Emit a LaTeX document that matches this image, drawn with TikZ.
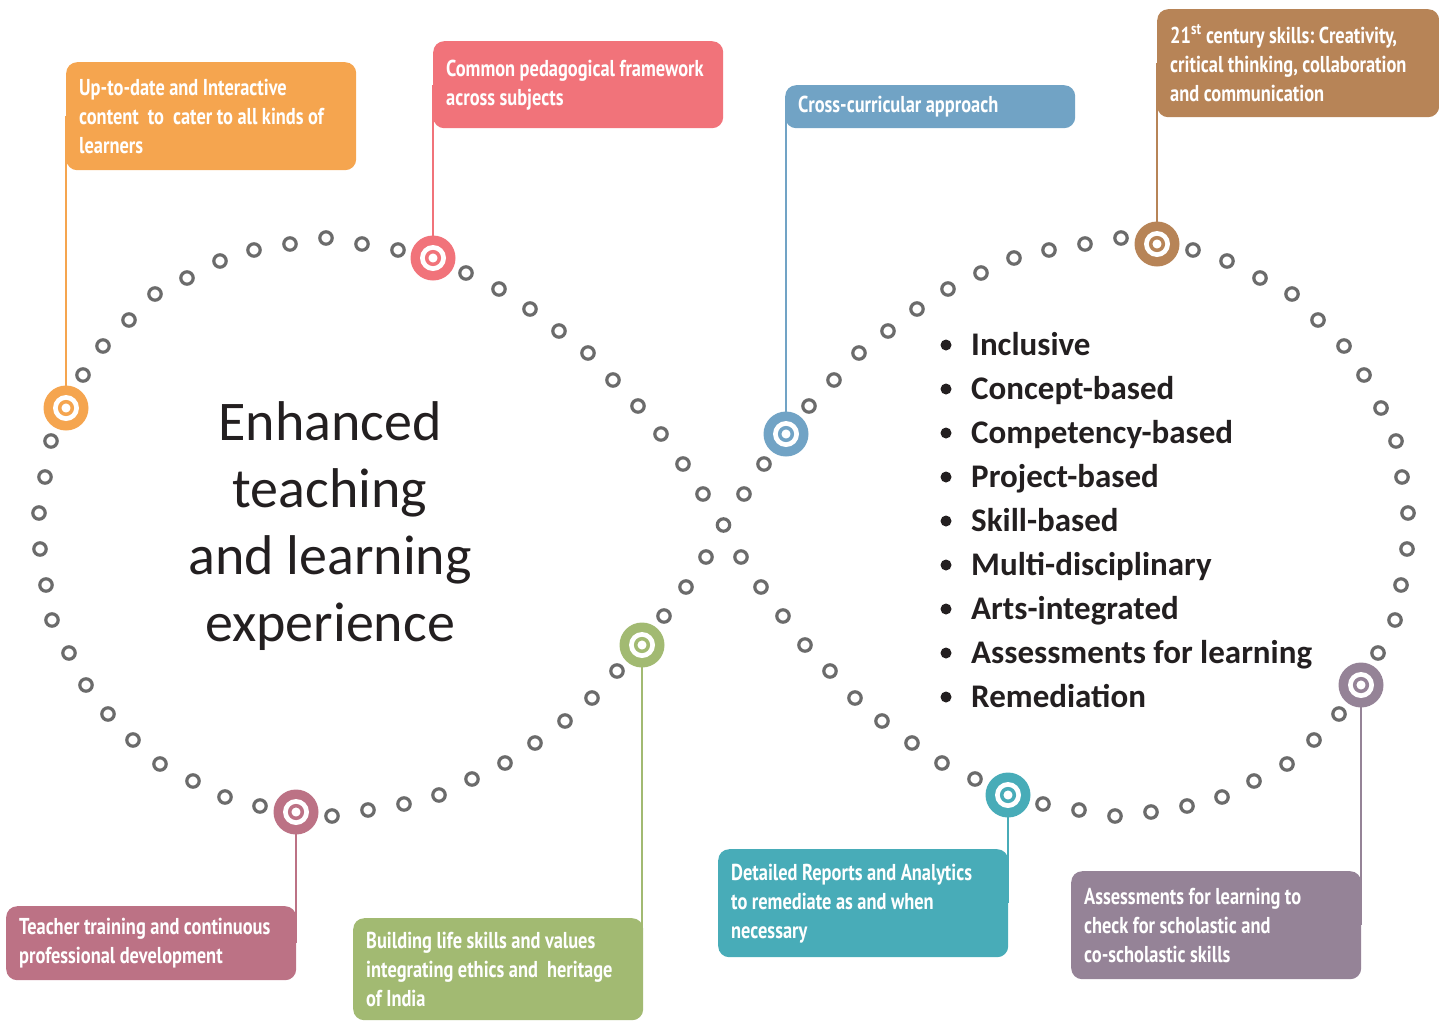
\documentclass[tikz,border=0pt]{standalone}
\usepackage{fontspec}
\setmainfont{Carlito}
\newfontfamily\boxfont[FakeStretch=0.8]{PT Sans}
\usetikzlibrary{backgrounds}

\definecolor{cOrange}{HTML}{F5A54F}
\definecolor{cPink}{HTML}{F1737A}
\definecolor{cBlue}{HTML}{71A3C5}
\definecolor{cBrown}{HTML}{B78457}
\definecolor{cMauve}{HTML}{BC7285}
\definecolor{cGreen}{HTML}{A2BA72}
\definecolor{cTeal}{HTML}{48ACB8}
\definecolor{cPurple}{HTML}{958397}
\definecolor{cDot}{HTML}{6B6B6B}
\definecolor{cText}{HTML}{231F20}

\tikzset{
  box/.style={fill=#1, rounded corners=11pt, anchor=north west, text=white,
    inner xsep=13pt, inner ysep=0pt, text width=264pt, align=left,
    font=\boxfont\bfseries\fontsize{23}{29}\selectfont,
    execute at begin node={\frenchspacing\spaceskip=4.5pt plus 1pt minus 1pt\xspaceskip=4.5pt plus 1pt\relax}},
  marker/.style={circle, fill=#1, minimum size=45pt, inner sep=0pt,
    path picture={\fill[white] (path picture bounding box.center) circle (13pt);
      \draw[#1, line width=3.5pt] (path picture bounding box.center) circle (6.3pt);}},
  link/.style={draw=#1, line width=2pt},
  dot/.style={draw=cDot, fill=white, line width=3.2pt},
  item/.style={anchor=base west, inner sep=0pt, text=cText,
    font=\bfseries\fontsize{33}{38}\selectfont},
}

\begin{document}
\begin{tikzpicture}[x=1pt, y=-1pt]
        \useasboundingbox (0,0) rectangle (1439,1023);
        \clip (0,0) rectangle (1439,1023);

        % dotted figure eight, left half mirrored to the right
        \foreach \x/\y in {703/494, 683/464, 661/434, 638/406, 613/380, 588/353, 559/331,
            530/309, 499/289, 466/273, 433/258, 398/250, 362/244, 326/238, 290/244,
            254/250, 220/261, 187/278, 155/294, 129/320, 103/346, 83/375, 66/408,
            51/441, 45/477, 39/513, 40/549, 46/585, 52/620, 69/653, 86/685, 108/714,
            133/740, 160/764, 193/781, 225/797, 260/806, 296/812, 332/816, 368/810,
            404/804, 439/795, 472/779, 505/763, 535/743, 565/721, 592/698, 617/671,
            642/645, 664/616, 686/587, 706/557} {
            \draw[dot] (\x,\y) circle (6.2);
            \draw[dot] (1447-\x,\y) circle (6.2);
        }
        \draw[dot] (723.5,525) circle (6.2);

        \node[marker=cOrange] (mkUpdate) at (66,408) {};
        \node[marker=cPink] (mkCommon) at (433,258) {};
        \node[marker=cBlue] (mkCross) at (786,434) {};
        \node[marker=cBrown] (mkSkills) at (1157,244) {};
        \node[marker=cPurple] (mkAssess) at (1361,685) {};
        \node[marker=cTeal] (mkReports) at (1008,795) {};
        \node[marker=cGreen] (mkValues) at (642,645) {};
        \node[marker=cMauve] (mkTeacher) at (296,812) {};

        \node[box=cOrange, minimum height=108pt] (update) at (66,62)
            {Up-to-date and Interactive\\content\ \ to\ \ cater to all kinds of\\learners};
        \node[box=cPink, minimum height=87pt] (common) at (433,41)
            {Common pedagogical framework\\across subjects};
        \node[box=cBlue, minimum height=43pt] (cross) at (785,85)
            {Cross-curricular approach};
        \node[box=cBrown, minimum height=108pt, text width=256pt] (skills) at (1157,9)
            {21\textsuperscript{st} century skills: Creativity,\\critical thinking, collaboration\\and communication};
        \node[box=cMauve, minimum height=74pt] (teacher) at (6,906)
            {Teacher training and continuous\\professional development};
        \node[box=cGreen, minimum height=102pt] (values) at (353,918)
            {Building life skills and values\\integrating ethics and\ \ heritage\\of India};
        \node[box=cTeal, minimum height=108pt] (reports) at (718,849)
            {Detailed Reports and Analytics\\to remediate as and when\\necessary};
        \node[box=cPurple, minimum height=108pt] (assess) at (1071,871)
            {Assessments for learning to\\check for scholastic and\\co-scholastic skills};

        \begin{scope}[on background layer]
            \draw[link=cOrange] (mkUpdate.center) -- (mkUpdate |- update.center);
            \draw[link=cPink] (mkCommon.center) -- (mkCommon |- common.center);
            \draw[link=cBlue] (mkCross.center) -- (mkCross |- cross.center);
            \draw[link=cBrown] (mkSkills.center) -- (mkSkills |- skills.center);
            \draw[link=cPurple] (mkAssess.center) -- (mkAssess |- assess.center);
            \draw[link=cTeal] (mkReports.center) -- (mkReports |- reports.center);
            \draw[link=cGreen] (mkValues.center) -- (mkValues |- values.center);
            \draw[link=cMauve] (mkTeacher.center) -- (mkTeacher |- teacher.center);
        \end{scope}

        \node[text=cText, align=center, font=\fontsize{56}{67}\selectfont] (title) at (330,526)
            {Enhanced\\teaching\\and learning\\experience};

        \foreach \txt [count=\i] in {Inclusive, Concept-based, Competency-based, Project-based,
            Skill-based, Multi-disciplinary, Arts-integrated, Assessments for learning, Remediation} {
            \node[item] (item\i) at (971,311+44*\i) {\txt};
            \fill[cText] (946,301+44*\i) circle (5.5);
        }
\end{tikzpicture}
\end{document}
